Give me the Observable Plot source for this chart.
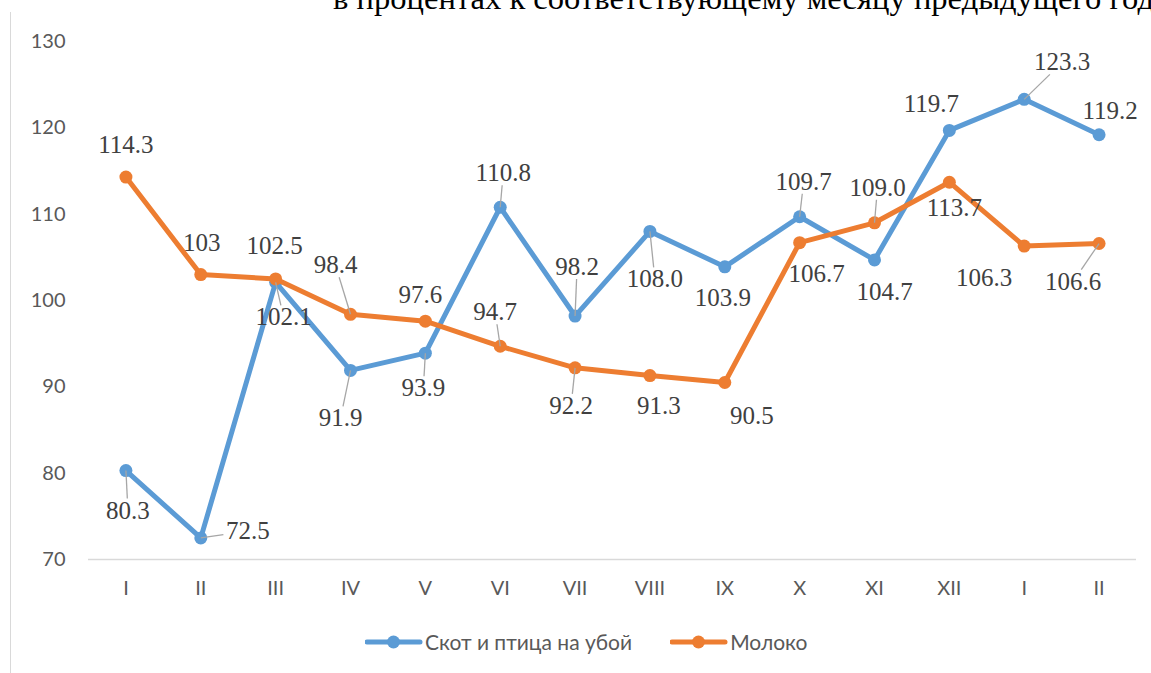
<!DOCTYPE html>
<html><head><meta charset="utf-8">
<script src="https://cdn.jsdelivr.net/npm/d3@7"></script>
<script src="https://cdn.jsdelivr.net/npm/@observablehq/plot@0.6"></script>
<style>
html,body{margin:0;padding:0;background:#fff}
body{width:1151px;height:673px;overflow:hidden;position:relative;font-family:Lato,sans-serif}
#title{position:absolute;left:333px;top:-18px;font-family:"Liberation Serif",serif;font-size:32.6px;line-height:32px;white-space:nowrap;color:#000}
#frame{position:absolute;left:10px;top:12px;height:661px;border-left:1px solid #d9d9d9}
#chart{position:absolute;left:0;top:0}
#legend{position:absolute;left:365px;top:629px;display:flex;align-items:center;gap:38px;font-size:21px;color:#595959;white-space:nowrap}
.item{display:flex;align-items:center}
</style></head>
<body>
<div id="frame"></div>
<div id="title"></div>
<div id="chart"></div>
<div id="legend"></div>
<script>
const titleText = "в процентах к соответствующему месяцу предыдущего года";
const months = ["I","II","III","IV","V","VI","VII","VIII","IX","X","XI","XII","I","II"];
const seriesNames = ["Скот и птица на убой", "Молоко"];
const seriesColors = ["#5b9bd5", "#ed7d31"];
const cattle = [80.3, 72.5, 102.1, 91.9, 93.9, 110.8, 98.2, 108.0, 103.9, 109.7, 104.7, 119.7, 123.3, 119.2];
const milk = [114.3, 103, 102.5, 98.4, 97.6, 94.7, 92.2, 91.3, 90.5, 106.7, 109.0, 113.7, 106.3, 106.6];
const cattleLabels = ["80.3","72.5","102.1","91.9","93.9","110.8","98.2","108.0","103.9","109.7","104.7","119.7","123.3","119.2"];
const milkLabels = ["114.3","103","102.5","98.4","97.6","94.7","92.2","91.3","90.5","106.7","109.0","113.7","106.3","106.6"];
const yTicks = [70, 80, 90, 100, 110, 120, 130];

// label placement (pixel offsets of label centre from its point) and leader-line flags
const cattleOffsets = [[2,40],[47,-7],[8,35],[-10,48],[-2,35],[3,-34],[2,-49],[5,48],[-2,31],[4,-35],[10,32],[-18,-26],[38,-37],[11,-24]];
const milkOffsets = [[0,-32],[1,-32],[-1,-33],[-15,-49],[-5,-26],[-5,-34],[-4,38],[9,30],[27,33],[17,31],[3,-35],[5,26],[-40,32],[-26,38]];
const cattleLeaders = [1,1,1,1,1,1,1,1,0,1,0,0,1,0];
const milkLeaders = [0,0,0,1,0,1,1,0,0,0,1,0,0,1];

document.getElementById("title").textContent = titleText;

const W = 1151, H = 615, mL = 88, mR = 15, mT = 41, mB = 56;
const xPerPx = 14 / (W - mL - mR);
const yPerPx = (130 - 70) / (H - mT - mB);

function rows(values, labels, offsets, leaders) {
  return values.map((v, i) => {
    const [dx, dy] = offsets[i];
    const hw = labels[i].length * 5.6 + 2, hh = 12;
    const s = Math.min(dx ? hw / Math.abs(dx) : Infinity, dy ? hh / Math.abs(dy) : Infinity);
    const ex = dx * (1 - s), ey = dy * (1 - s);
    return {
      i, v, label: labels[i],
      lx: i + dx * xPerPx, ly: v - dy * yPerPx,
      ex: i + ex * xPerPx, ey: v - ey * yPerPx,
      leader: !!leaders[i]
    };
  });
}
const cRows = rows(cattle, cattleLabels, cattleOffsets, cattleLeaders);
const mRows = rows(milk, milkLabels, milkOffsets, milkLeaders);
const all = cRows.concat(mRows);

const chart = Plot.plot({
  width: W, height: H,
  marginLeft: mL, marginRight: mR, marginTop: mT, marginBottom: mB,
  style: {fontFamily: "Lato, sans-serif", fontSize: "20px", color: "#595959", background: "transparent"},
  x: {domain: [-0.5, 13.5]},
  y: {domain: [70, 130]},
  marks: [
    Plot.ruleY([70], {stroke: "#d9d9d9", strokeWidth: 1.3}),
    Plot.axisY({ticks: yTicks, tickSize: 0, tickPadding: 23, fontSize: 20}),
    Plot.axisX({ticks: d3.range(months.length), tickFormat: i => months[i], tickSize: 0, tickPadding: 21, fontSize: 20, label: null}),
    Plot.line(cRows, {x: "i", y: "v", stroke: seriesColors[0], strokeWidth: 5, strokeLinejoin: "round"}),
    Plot.dot(cRows, {x: "i", y: "v", r: 6.5, fill: seriesColors[0]}),
    Plot.line(mRows, {x: "i", y: "v", stroke: seriesColors[1], strokeWidth: 5, strokeLinejoin: "round"}),
    Plot.dot(mRows, {x: "i", y: "v", r: 6.5, fill: seriesColors[1]}),
    Plot.link(all.filter(d => d.leader), {x1: "i", y1: "v", x2: "ex", y2: "ey", stroke: "#a6a6a6", strokeWidth: 1.3}),
    Plot.text(all, {x: "lx", y: "ly", text: "label", fontFamily: "Liberation Serif, serif", fontSize: 25, fill: "#404040"})
  ]
});
document.getElementById("chart").appendChild(chart);

const legend = d3.select("#legend");
seriesNames.forEach((name, k) => {
  const it = legend.append("div").attr("class", "item");
  const s = it.append("svg").attr("width", 60).attr("height", 24);
  s.append("line").attr("x1", 2).attr("x2", 55).attr("y1", 12).attr("y2", 12)
    .attr("stroke", seriesColors[k]).attr("stroke-width", 5).attr("stroke-linecap", "round");
  s.append("circle").attr("cx", 28.5).attr("cy", 12).attr("r", 6.5).attr("fill", seriesColors[k]);
  it.append("span").text(name);
});
</script>
</body></html>
